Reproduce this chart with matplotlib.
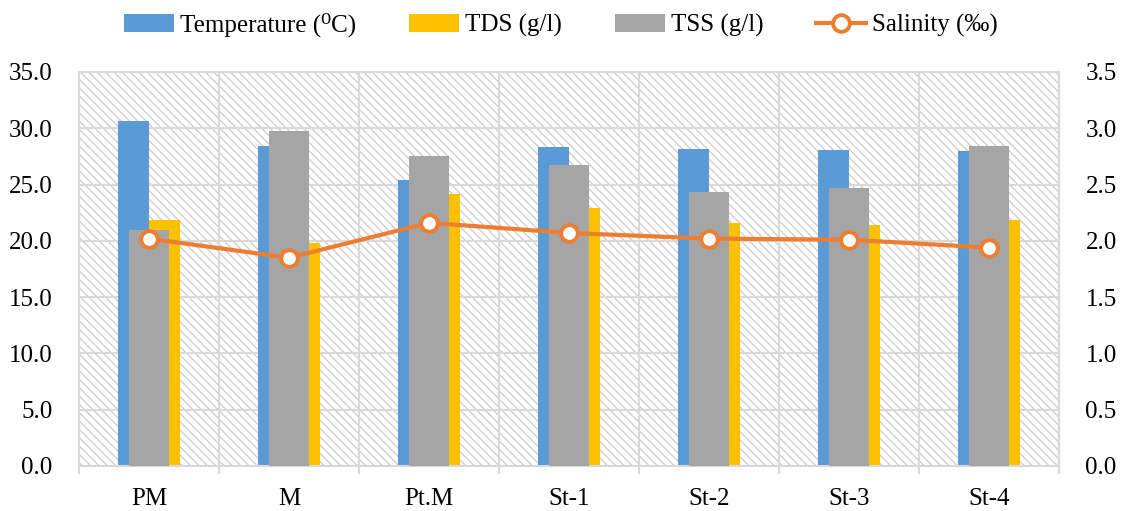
import matplotlib.pyplot as plt
from matplotlib.patches import Rectangle
from matplotlib.ticker import FormatStrFormatter, MultipleLocator, FixedLocator
import numpy as np

plt.rcParams['font.family'] = ['Liberation Serif', 'DejaVu Serif']
plt.rcParams['hatch.linewidth'] = 1.0

stations = ['PM', 'M', 'Pt.M', 'St-1', 'St-2', 'St-3', 'St-4']
temperature = [30.65, 28.43, 25.38, 28.37, 28.13, 28.04, 27.98]
tds = [21.83, 19.80, 24.16, 22.89, 21.56, 21.44, 21.85]
tss = [20.96, 29.76, 27.54, 26.74, 24.34, 24.72, 28.43]
salinity = [2.02, 1.85, 2.16, 2.07, 2.02, 2.01, 1.94]

blue = '#5B9BD5'
yellow = '#FFC000'
grey = '#A5A5A5'
orange = '#ED7D31'
gridc = '#D9D9D9'
f_size = 18

x = np.arange(len(stations))

fig = plt.figure(figsize=(11.22, 5.11), dpi=100)
ax = fig.add_axes([0.0704, 0.0881, 0.8735, 0.771])

# hatched plot area
ax.add_patch(Rectangle((0, 0), 1, 1, transform=ax.transAxes, facecolor='white',
                       edgecolor='#D0D0D0', hatch='\\\\\\\\', linewidth=0, zorder=0))

ax.bar(x - 0.111, temperature, width=0.221, color=blue, zorder=2, label='Temperature (⁰C)')
ax.bar(x + 0.111, tds, width=0.221, color=yellow, zorder=2, label='TDS (g/l)')
ax.bar(x, tss, width=0.286, color=grey, zorder=3, label='TSS (g/l)')

ax.set_xlim(-0.5, len(stations) - 0.5)
ax.set_ylim(0, 35)
ax.yaxis.set_major_locator(MultipleLocator(5))
ax.yaxis.set_major_formatter(FormatStrFormatter('%.1f'))
ax.set_xticks(x)
ax.set_xticklabels(stations)
ax.xaxis.set_minor_locator(FixedLocator(np.arange(-0.5, len(stations), 1.0)))

ax.set_axisbelow(True)
ax.grid(axis='y', which='major', color=gridc, linewidth=1.5, zorder=1)
ax.grid(axis='x', which='minor', color=gridc, linewidth=1.5, zorder=1)
for s in ax.spines.values():
    s.set_color(gridc)
    s.set_linewidth(1.5)

ax.tick_params(axis='x', which='major', length=0, pad=16, labelsize=f_size)
ax.tick_params(axis='x', which='minor', length=6, width=1.5, color=gridc)
ax.tick_params(axis='y', length=0, pad=19, labelsize=f_size)

ax2 = ax.twinx()
ax2.patch.set_visible(False)
ax2.plot(x, salinity, color=orange, linewidth=3, marker='o', markersize=12,
         markerfacecolor='white', markeredgecolor=orange, markeredgewidth=2.8,
         zorder=5, label='Salinity (‰)')
ax2.set_ylim(0, 3.5)
ax2.yaxis.set_major_locator(MultipleLocator(0.5))
ax2.yaxis.set_major_formatter(FormatStrFormatter('%.1f'))
ax2.tick_params(axis='y', length=0, pad=19, labelsize=f_size)
for s in ax2.spines.values():
    s.set_visible(False)

h1, l1 = ax.get_legend_handles_labels()
h2, l2 = ax2.get_legend_handles_labels()
fig.legend(h1 + h2, l1 + l2, loc='center', bbox_to_anchor=(0.5, 0.951), ncol=4,
           frameon=False, fontsize=f_size, handlelength=2.0, handletextpad=0.25,
           columnspacing=2.1)

plt.savefig('out.png', dpi=100)
